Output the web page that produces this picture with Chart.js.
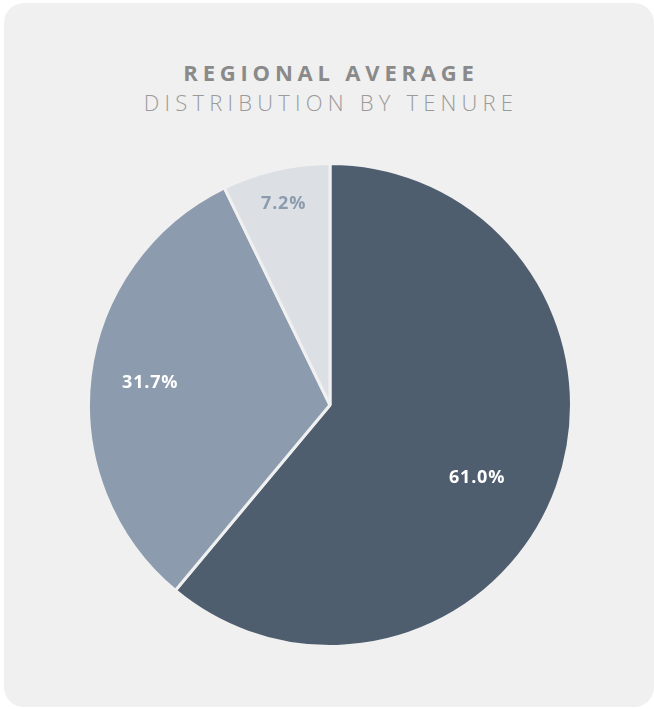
<!DOCTYPE html>
<html>
<head>
<meta charset="utf-8">
<script src="https://cdn.jsdelivr.net/npm/chart.js@4/dist/chart.umd.min.js"></script>
<style>
  html, body { margin: 0; padding: 0; background: #ffffff; }
  .card {
    position: absolute; left: 4px; top: 3px; width: 650px; height: 704px;
    background: #f0f0f0; border-radius: 20px;
  }
  .title {
    position: absolute; left: 0; width: 662px; text-align: center;
    font-family: 'Open Sans', 'DejaVu Sans', sans-serif; color: #8a8a8a;
  }
  #t1 { top: 57px; font-size: 22px; font-weight: 700; letter-spacing: 4.8px; }
  #t2 { top: 87px; font-size: 22px; font-weight: 300; letter-spacing: 5.2px; color: #9a9a9a; }
  #wrap { position: absolute; left: 87px; top: 162px; width: 486px; height: 486px; }
</style>
</head>
<body>
<div class="card"></div>
<div class="title" id="t1">REGIONAL AVERAGE</div>
<div class="title" id="t2">DISTRIBUTION BY TENURE</div>
<div id="wrap"><canvas id="pie" width="486" height="486"></canvas></div>
<script>
const categories = ['Long tenure', 'Mid tenure', 'Short tenure']
const shares = [61.0, 31.7, 7.2]
const sliceColors = ['#4f5e6f', '#8c9cae', '#dce0e5']
const labelColors = ['#ffffff', '#ffffff', '#8c9cae']
const labelRadius = [0.68, 0.75, 0.855]
const labelAngleShift = [6.5, 0, 0]

// draws the percentage inside each slice
const sliceLabels = {
  id: 'sliceLabels',
  afterDatasetsDraw(chart) {
    const ctx = chart.ctx
    const meta = chart.getDatasetMeta(0)
    ctx.save()
    ctx.font = '700 18px "Open Sans", "DejaVu Sans", sans-serif'
    ctx.letterSpacing = '0.8px'
    ctx.textAlign = 'center'
    ctx.textBaseline = 'middle'
    meta.data.forEach((arc, i) => {
      const p = arc.getProps(['x', 'y', 'startAngle', 'endAngle', 'outerRadius'], true)
      const mid = (p.startAngle + p.endAngle) / 2 + labelAngleShift[i] * Math.PI / 180
      const r = p.outerRadius * labelRadius[i]
      ctx.fillStyle = labelColors[i]
      ctx.fillText(shares[i].toFixed(1) + '%', p.x + Math.cos(mid) * r, p.y + Math.sin(mid) * r)
    })
    ctx.restore()
  },
}

new Chart(document.getElementById('pie'), {
  type: 'pie',
  data: {
    labels: categories,
    datasets: [{
      data: shares,
      backgroundColor: sliceColors,
      borderColor: '#f0f0f0',
      borderWidth: 3,
    }],
  },
  options: {
    responsive: false,
    animation: false,
    layout: { padding: 0 },
    plugins: {
      legend: { display: false },
      tooltip: { enabled: false },
    },
  },
  plugins: [sliceLabels],
})
</script>
</body>
</html>
